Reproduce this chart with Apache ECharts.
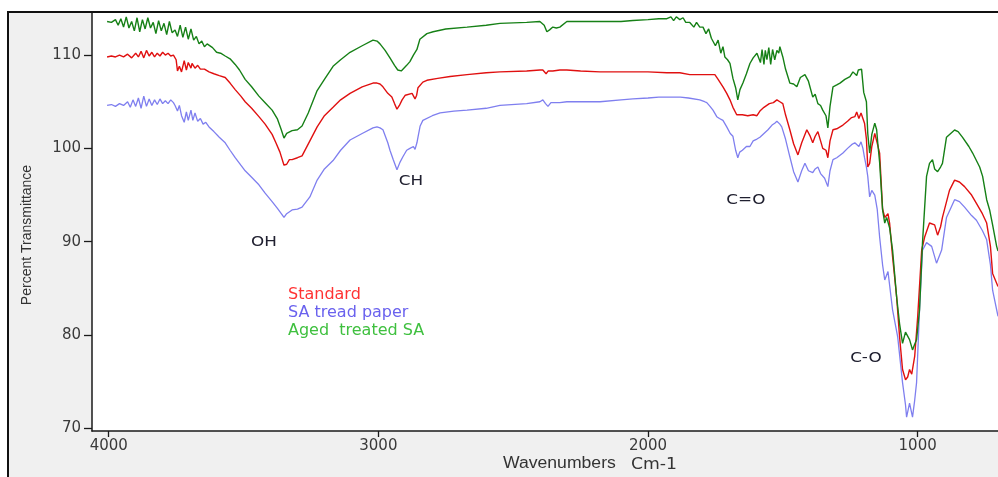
<!DOCTYPE html>
<html>
<head>
<meta charset="utf-8">
<script src="https://cdn.jsdelivr.net/npm/echarts@6/dist/echarts.min.js"></script>
<style>
html,body{margin:0;padding:0;background:#fff;}
#wrap{position:relative;width:998px;height:477px;overflow:hidden;}
#frame{position:absolute;left:7px;top:11px;width:1100px;height:600px;background:#f0f0f0;border-left:2px solid #111;border-top:2px solid #111;}
#chart{position:absolute;left:0;top:0;width:998px;height:477px;}
</style>
</head>
<body>
<div id="wrap"><div id="frame"></div><div id="chart"></div></div>
<script>
// ---- data (wavenumber cm-1, percent transmittance) ----
const seriesNames = ['Standard', 'SA tread paper', 'Aged  treated SA'];
const xTicks = [4000, 3000, 2000, 1000];
const yTicks = [70, 80, 90, 100, 110];

const agedData = [
[4006,113.6],[3990,113.5],[3975,113.8],[3965,113.2],[3955,113.9],[3945,113.0],[3935,114.1],[3925,112.9],[3915,113.6],[3905,112.6],[3895,114.0],[3885,112.5],[3875,113.8],[3865,112.8],[3855,114.0],[3845,112.9],[3835,113.5],[3825,112.3],[3815,113.7],[3805,112.6],[3795,113.4],[3785,112.2],[3775,113.6],[3765,112.4],[3754,112.7],[3745,112.0],[3735,113.2],[3725,111.9],[3715,113.0],[3705,111.7],[3695,112.8],[3685,111.6],[3675,112.0],[3665,111.2],[3655,111.5],[3645,110.9],[3635,111.2],[3628,111.0],[3615,110.8],[3600,110.3],[3585,110.2],[3568,109.9],[3550,109.6],[3531,109.0],[3515,108.4],[3494,107.4],[3470,106.6],[3443,105.6],[3420,104.9],[3394,104.1],[3375,103.2],[3360,102.0],[3350,101.1],[3340,101.6],[3320,101.9],[3300,102.0],[3283,102.4],[3260,103.8],[3227,106.2],[3200,107.4],[3168,108.8],[3140,109.5],[3105,110.3],[3060,111.0],[3020,111.6],[3005,111.5],[2994,111.2],[2975,110.5],[2957,109.7],[2940,108.9],[2928,108.4],[2915,108.3],[2909,108.5],[2895,108.9],[2883,109.3],[2870,110.0],[2857,110.6],[2846,111.7],[2820,112.3],[2797,112.5],[2750,112.8],[2671,113.0],[2600,113.2],[2549,113.4],[2450,113.5],[2401,113.6],[2385,113.2],[2375,112.5],[2365,112.7],[2353,113.0],[2340,112.9],[2327,113.0],[2301,113.6],[2250,113.6],[2178,113.6],[2100,113.6],[2056,113.7],[2000,113.8],[1960,113.9],[1930,113.9],[1915,114.1],[1905,113.7],[1895,114.1],[1882,113.8],[1870,114.0],[1860,113.5],[1845,113.5],[1830,113.0],[1820,113.5],[1808,113.0],[1796,113.0],[1785,112.3],[1775,112.8],[1765,111.8],[1759,111.9],[1750,111.0],[1740,111.6],[1730,110.2],[1722,110.9],[1715,109.8],[1705,109.5],[1696,109.1],[1685,107.5],[1675,106.5],[1667,105.2],[1659,106.3],[1648,107.0],[1635,108.0],[1622,109.1],[1610,109.7],[1596,110.2],[1590,110.4],[1583,109.2],[1577,110.6],[1570,109.0],[1565,110.5],[1559,109.5],[1552,110.8],[1545,109.0],[1538,110.6],[1530,109.5],[1522,110.5],[1515,110.2],[1511,110.9],[1500,109.8],[1490,108.5],[1474,107.0],[1460,106.9],[1448,106.6],[1435,107.6],[1418,107.9],[1405,107.2],[1400,107.4],[1389,105.5],[1380,105.8],[1370,104.8],[1360,104.6],[1352,104.1],[1340,103.5],[1333,102.2],[1325,104.5],[1314,106.6],[1300,106.8],[1288,107.0],[1270,107.4],[1251,107.7],[1240,108.2],[1233,108.4],[1226,107.8],[1220,108.4],[1214,108.6],[1208,108.5],[1200,106.0],[1190,105.0],[1185,101.6],[1178,99.5],[1170,101.5],[1159,102.7],[1152,102.0],[1148,100.6],[1141,98.5],[1130,93.4],[1122,92.0],[1115,92.6],[1104,91.5],[1093,89.1],[1078,84.1],[1067,81.2],[1056,79.1],[1045,80.3],[1041,80.5],[1030,79.5],[1019,78.4],[1011,79.0],[1004,79.5],[993,82.7],[982,89.9],[967,97.0],[956,98.4],[945,98.8],[937,97.8],[926,97.5],[915,98.0],[908,98.4],[893,101.2],[863,101.97],[850,101.8],[834,101.2],[810,100.2],[796,99.5],[770,98.0],[759,97.0],[744,94.5],[733,93.4],[722,91.8],[707,89.5],[702,89.0]
];

const standardData = [
[4006,109.8],[3990,109.9],[3975,109.8],[3960,110.0],[3945,109.8],[3930,110.1],[3915,109.7],[3900,110.2],[3890,109.8],[3880,110.4],[3870,109.7],[3860,110.5],[3850,109.9],[3840,110.3],[3830,109.8],[3820,110.2],[3810,109.9],[3800,110.3],[3790,110.0],[3780,110.2],[3770,109.9],[3760,110.0],[3750,109.5],[3745,108.3],[3738,108.8],[3730,108.2],[3720,109.4],[3712,108.4],[3705,109.2],[3695,108.6],[3691,109.1],[3680,108.6],[3670,108.9],[3660,108.5],[3645,108.5],[3628,108.2],[3610,108.0],[3590,107.8],[3568,107.6],[3550,107.0],[3531,106.3],[3510,105.6],[3494,105.0],[3470,104.3],[3443,103.4],[3420,102.6],[3394,101.5],[3380,100.6],[3365,99.6],[3350,98.2],[3340,98.3],[3330,98.8],[3320,98.8],[3300,99.0],[3283,99.2],[3254,100.8],[3227,102.3],[3200,103.5],[3168,104.4],[3140,105.2],[3105,105.9],[3060,106.6],[3020,107.0],[3005,107.0],[2994,106.9],[2983,106.6],[2965,105.9],[2950,105.5],[2940,104.8],[2931,104.2],[2922,104.6],[2912,105.2],[2900,105.7],[2894,105.9],[2875,105.9],[2864,105.3],[2858,105.7],[2853,106.5],[2835,107.1],[2820,107.3],[2780,107.5],[2734,107.7],[2671,107.9],[2600,108.1],[2549,108.2],[2450,108.3],[2401,108.4],[2390,108.4],[2378,108.0],[2370,108.3],[2353,108.3],[2327,108.4],[2301,108.4],[2250,108.3],[2178,108.2],[2100,108.2],[2056,108.2],[2000,108.2],[1930,108.1],[1882,108.1],[1845,107.9],[1808,107.9],[1770,107.9],[1752,107.9],[1740,107.4],[1722,106.6],[1708,105.9],[1696,105.2],[1685,104.4],[1671,103.6],[1667,103.4],[1650,103.6],[1630,103.5],[1610,103.6],[1596,103.5],[1585,104.0],[1570,104.4],[1550,104.8],[1535,104.9],[1522,105.2],[1511,105.0],[1500,104.8],[1490,103.6],[1474,102.0],[1460,100.5],[1444,99.3],[1430,100.6],[1411,102.0],[1400,101.4],[1389,100.6],[1380,101.3],[1370,101.8],[1360,100.8],[1352,100.0],[1340,99.8],[1333,99.0],[1325,100.8],[1314,102.0],[1300,102.1],[1277,102.5],[1260,102.9],[1245,103.3],[1233,103.4],[1226,103.9],[1218,103.2],[1210,103.8],[1203,103.6],[1197,102.7],[1190,101.0],[1185,98.0],[1178,98.4],[1170,100.2],[1159,101.6],[1152,100.8],[1141,99.5],[1130,93.5],[1122,92.6],[1110,93.0],[1104,92.0],[1093,88.4],[1078,84.1],[1067,79.8],[1056,76.3],[1045,75.2],[1037,75.5],[1030,76.3],[1022,75.8],[1011,77.7],[1000,81.9],[985,89.1],[974,90.5],[956,92.0],[937,91.8],[926,90.7],[915,91.6],[908,92.6],[882,95.5],[863,96.6],[845,96.4],[826,95.9],[800,95.0],[782,94.1],[760,93.0],[744,92.0],[730,89.5],[722,86.6],[702,85.2]
];

const saTreadData = [
[4006,104.6],[3990,104.7],[3975,104.5],[3960,104.8],[3945,104.6],[3930,105.0],[3920,104.4],[3910,105.2],[3900,104.5],[3890,105.4],[3880,104.3],[3870,105.6],[3860,104.5],[3850,105.3],[3840,104.6],[3830,105.2],[3820,104.7],[3810,105.3],[3800,104.8],[3790,105.1],[3780,104.8],[3770,105.2],[3760,104.9],[3754,104.6],[3745,104.0],[3738,104.6],[3730,103.5],[3720,102.8],[3712,103.9],[3705,103.0],[3695,104.1],[3688,103.0],[3680,103.8],[3670,102.9],[3660,103.2],[3650,102.6],[3640,102.8],[3628,102.3],[3610,101.8],[3590,101.2],[3568,100.6],[3550,99.8],[3531,99.0],[3510,98.2],[3494,97.6],[3470,96.9],[3443,96.1],[3420,95.2],[3394,94.3],[3375,93.6],[3360,93.0],[3350,92.6],[3340,93.0],[3320,93.4],[3300,93.5],[3283,93.7],[3254,94.8],[3227,96.6],[3200,97.8],[3168,98.7],[3140,99.8],[3105,100.9],[3060,101.6],[3020,102.2],[3005,102.3],[2994,102.2],[2983,102.0],[2965,100.6],[2957,99.8],[2945,98.8],[2931,97.7],[2920,98.5],[2909,99.1],[2895,99.8],[2883,100.0],[2870,100.2],[2864,99.9],[2857,100.6],[2853,101.2],[2845,102.4],[2835,103.0],[2800,103.5],[2771,103.8],[2720,104.0],[2671,104.1],[2600,104.3],[2549,104.6],[2450,104.8],[2401,105.0],[2390,105.2],[2380,104.8],[2371,104.5],[2360,104.9],[2353,104.9],[2327,104.9],[2301,105.0],[2250,105.0],[2178,105.0],[2100,105.2],[2056,105.3],[2000,105.4],[1960,105.5],[1930,105.5],[1908,105.5],[1880,105.5],[1850,105.4],[1808,105.2],[1790,105.0],[1782,104.9],[1770,104.5],[1759,104.1],[1745,103.4],[1735,103.2],[1722,103.0],[1708,102.3],[1695,101.6],[1685,101.3],[1675,99.8],[1667,99.0],[1660,99.6],[1650,99.8],[1635,100.2],[1622,100.2],[1610,100.8],[1596,101.0],[1585,101.2],[1570,101.6],[1555,102.0],[1540,102.5],[1530,102.7],[1522,102.9],[1511,102.6],[1504,102.3],[1490,101.0],[1474,99.1],[1460,97.5],[1444,96.4],[1430,97.6],[1418,98.4],[1405,97.6],[1389,97.4],[1380,97.8],[1370,98.0],[1360,97.3],[1345,96.8],[1333,95.9],[1325,97.6],[1314,98.8],[1300,99.0],[1277,99.5],[1260,100.0],[1245,100.4],[1233,100.6],[1226,100.8],[1218,100.2],[1210,100.7],[1203,100.0],[1197,99.0],[1190,98.0],[1185,97.0],[1178,94.8],[1170,95.5],[1159,95.0],[1150,93.5],[1141,90.5],[1130,87.5],[1122,85.9],[1110,86.8],[1104,87.0],[1093,82.7],[1074,79.8],[1056,74.9],[1045,72.5],[1041,71.2],[1030,72.7],[1019,71.2],[1011,73.0],[1004,74.9],[993,82.7],[982,89.1],[967,89.9],[948,89.5],[930,87.7],[911,89.1],[893,92.6],[863,94.5],[845,94.3],[826,93.7],[800,92.8],[782,92.3],[760,91.2],[744,90.2],[730,87.5],[722,84.8],[702,82.0]
];

// peak labels [wavenumber, transmittance, text]
const annotations = [
  [3424, 89.97, 'OH'],
  [2879, 96.5, 'CH'],
  [1637, 94.4, 'C=O'],
  [1192, 77.5, 'C-O']
];

const lineColors = ['#e01010', '#7f7fef', '#168016'];
const legendColors = ['#ff3333', '#6a62ee', '#3fc03f'];

const chart = echarts.init(document.getElementById('chart'), null, {renderer: 'canvas'});
const tickFont = {fontFamily: 'DejaVu Sans', fontSize: 15, color: '#3a3a3a', formatter: v => String(v)};

const option = {
  animation: false,
  backgroundColor: 'transparent',
  grid: {left: 92, top: 13, right: 0, bottom: 46, show: true, backgroundColor: '#ffffff', borderWidth: 0},
  xAxis: {
    type: 'value', inverse: true, min: 702, max: 4062,
    axisLine: {show: true, onZero: false, lineStyle: {color: '#1a1a1a', width: 1.5}},
    axisTick: {show: true, length: 6, customValues: xTicks, lineStyle: {color: '#1a1a1a', width: 1.3}},
    axisLabel: Object.assign({customValues: xTicks, margin: 8}, tickFont),
    splitLine: {show: false}
  },
  yAxis: {
    type: 'value', min: 69.71, max: 114.51,
    axisLine: {show: true, onZero: false, lineStyle: {color: '#1a1a1a', width: 1.5}},
    axisTick: {show: true, length: 8, customValues: yTicks, lineStyle: {color: '#1a1a1a', width: 1.3}},
    axisLabel: Object.assign({customValues: yTicks, margin: 11}, tickFont),
    splitLine: {show: false}
  },
  legend: {
    orient: 'vertical', left: 283, top: 286, icon: 'none', itemWidth: 0, itemHeight: 0, itemGap: 0,
    padding: 0, selectedMode: false,
    textStyle: {fontFamily: 'DejaVu Sans', fontSize: 16, lineHeight: 18},
    data: seriesNames.map((n, i) => ({name: n, textStyle: {color: legendColors[i]}}))
  },
  series: [
    {name: seriesNames[1], type: 'line', data: saTreadData, showSymbol: false, z: 2,
     lineStyle: {color: lineColors[1], width: 1.3}, itemStyle: {color: lineColors[1]}},
    {name: seriesNames[0], type: 'line', data: standardData, showSymbol: false, z: 3,
     lineStyle: {color: lineColors[0], width: 1.4}, itemStyle: {color: lineColors[0]}},
    {name: seriesNames[2], type: 'line', data: agedData, showSymbol: false, z: 4,
     lineStyle: {color: lineColors[2], width: 1.4}, itemStyle: {color: lineColors[2]}}
  ]
};
chart.setOption(option);

const graphics = annotations.map(a => {
  const p = chart.convertToPixel({gridIndex: 0}, [a[0], a[1]]);
  return {type: 'text', x: p[0], y: p[1], scaleX: 1.2, z: 10,
    style: {text: a[2], fontFamily: 'DejaVu Sans', fontSize: 14, fill: '#202030', align: 'center', verticalAlign: 'middle'}};
});
graphics.push({type: 'text', x: 27, y: 235, rotation: Math.PI / 2, z: 10,
  style: {text: 'Percent Transmittance', fontFamily: 'Liberation Sans', fontSize: 14, fill: '#333', align: 'center', verticalAlign: 'middle'}});
graphics.push({type: 'text', x: 503, y: 464, scaleX: 1.1, z: 10,
  style: {text: 'Wavenumbers', fontFamily: 'Liberation Sans', fontSize: 16, fill: '#333', align: 'left', verticalAlign: 'middle'}});
graphics.push({type: 'text', x: 631, y: 465, scaleX: 1.15, z: 10,
  style: {text: 'Cm-1', fontFamily: 'DejaVu Sans', fontSize: 15, fill: '#333', align: 'left', verticalAlign: 'middle'}});
chart.setOption({graphic: graphics});
</script>
</body>
</html>
